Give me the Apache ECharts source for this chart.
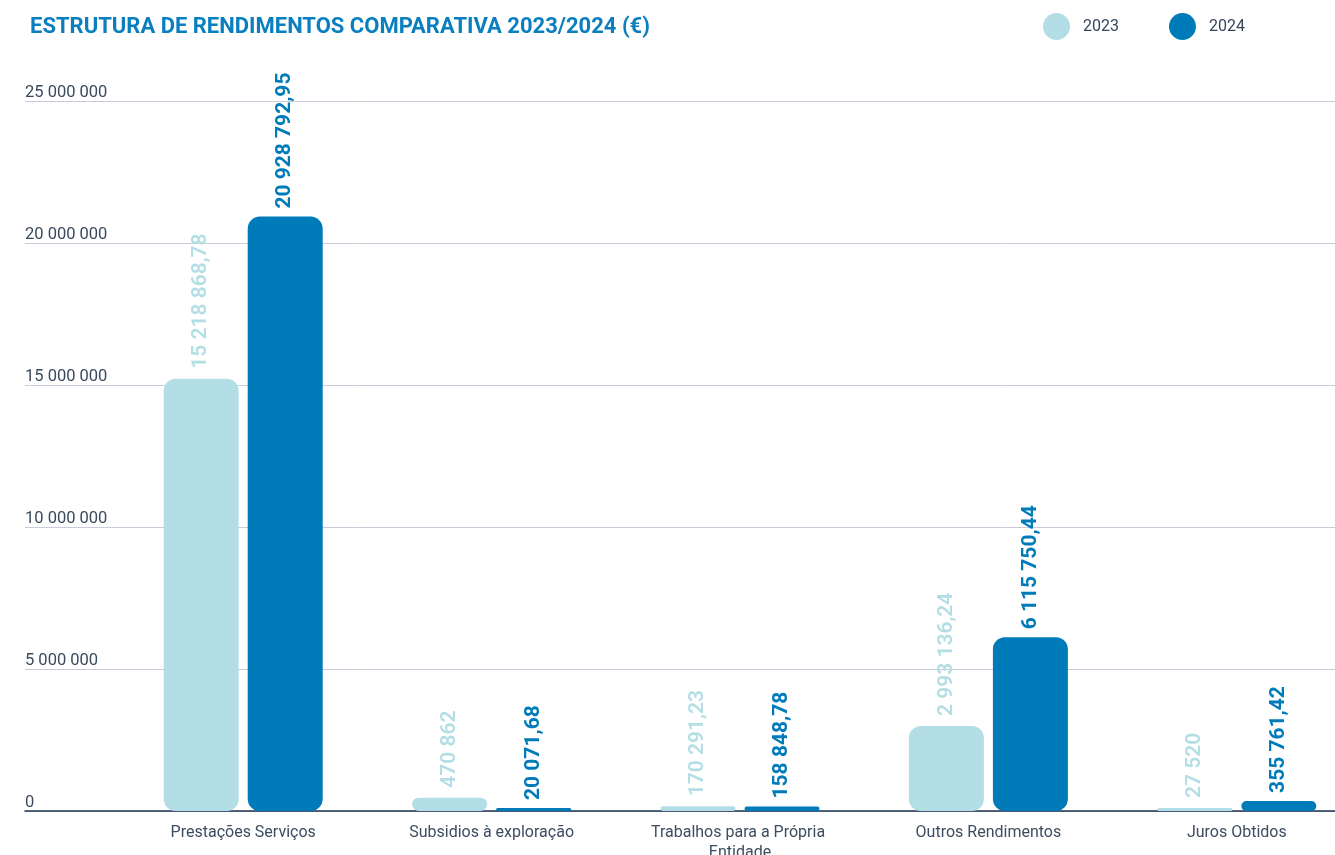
<!DOCTYPE html>
<html><head><meta charset="utf-8">
<script src="https://cdn.jsdelivr.net/npm/echarts@6/dist/echarts.min.js"></script>
<style>html,body{margin:0;padding:0;background:#fff}#c{width:1335px;height:855px}</style>
</head><body><div id="c"></div>
<script>
const categories = ['Prestações Serviços','Subsidios à exploração','Trabalhos para a Própria Entidade','Outros Rendimentos','Juros Obtidos'];
const values2023 = [15218868.78, 470862, 170291.23, 2993136.24, 27520];
const values2024 = [20928792.95, 20071.68, 158848.78, 6115750.44, 355761.42];
const seriesNames = ['2023','2024'];
const yMax = 25000000, yStep = 5000000;

function fmt(v){
  const isInt = Math.abs(v - Math.round(v)) < 1e-9;
  const s = isInt ? String(Math.round(v)) : v.toFixed(2);
  const parts = s.split('.');
  const ip = parts[0].replace(/\B(?=(\d{3})+(?!\d))/g, ' ');
  return parts.length > 1 ? ip + ',' + parts[1] : ip;
}

const LIGHT = '#b3dee5', DARK = '#007bba';
const chart = echarts.init(document.getElementById('c'));
chart.setOption({
  animation: false,
  textStyle: {fontFamily: 'Roboto'},
  title: {text: 'ESTRUTURA DE RENDIMENTOS COMPARATIVA 2023/2024 (€)', left: 25, top: 11,
    textStyle: {color: '#0a7fc0', fontSize: 22, fontWeight: 'bold', fontFamily: 'Roboto'}},
  legend: {data: seriesNames, left: 1038, top: 8, icon: 'circle', itemWidth: 27, itemHeight: 27, itemGap: 50,
    textStyle: {color: '#34465a', fontSize: 16, padding: [0,0,0,8]}},
  grid: [
    {left: 25, right: 0, top: 101, bottom: 44, containLabel: false, outerBoundsMode: 'none'},
    {left: 119, right: -26, top: 101, bottom: 44, containLabel: false, outerBoundsMode: 'none'}
  ],
  xAxis: [
    {type: 'value', gridIndex: 0, min: 0, max: 1, show: true, splitLine: {show: false}, axisLabel: {show: false}, axisTick: {show: false},
      axisLine: {show: true, onZero: false, lineStyle: {color: '#1d3350', width: 1.5}}},
    {type: 'category', gridIndex: 1, data: categories, axisLine: {show: false}, axisTick: {show: false},
      axisLabel: {interval: 0, color: '#3d4d60', fontSize: 16, margin: 12, width: 220, overflow: 'break', lineHeight: 20}}
  ],
  yAxis: [
    {type: 'value', gridIndex: 0, min: 0, max: yMax, interval: yStep,
      axisLine: {show: false}, axisTick: {show: false},
      splitLine: {lineStyle: {color: '#c9ccd8', width: 1}},
      axisLabel: {inside: true, margin: 0, color: '#3a4a5c', fontSize: 16.5, verticalAlign: 'bottom', padding: [0,0,0,0], formatter: v => fmt(v)}},
    {type: 'value', gridIndex: 1, min: 0, max: yMax, show: false, splitLine: {show: false}}
  ],
  series: [
    {name: seriesNames[0], type: 'bar', xAxisIndex: 1, yAxisIndex: 1, data: values2023, barWidth: 75, barGap: '12%', barMinHeight: 3,
      itemStyle: {color: LIGHT, borderRadius: 12},
      label: {show: true, position: 'top', rotate: 90, align: 'left', verticalAlign: 'middle', distance: 10,
        color: LIGHT, fontSize: 21, fontWeight: 600, formatter: p => fmt(p.value)}},
    {name: seriesNames[1], type: 'bar', xAxisIndex: 1, yAxisIndex: 1, data: values2024, barWidth: 75, barMinHeight: 3,
      itemStyle: {color: DARK, borderRadius: 12},
      label: {show: true, position: 'top', rotate: 90, align: 'left', verticalAlign: 'middle', distance: 8,
        color: DARK, fontSize: 21, fontWeight: 'bold', formatter: p => fmt(p.value)}}
  ]
});
</script></body></html>
